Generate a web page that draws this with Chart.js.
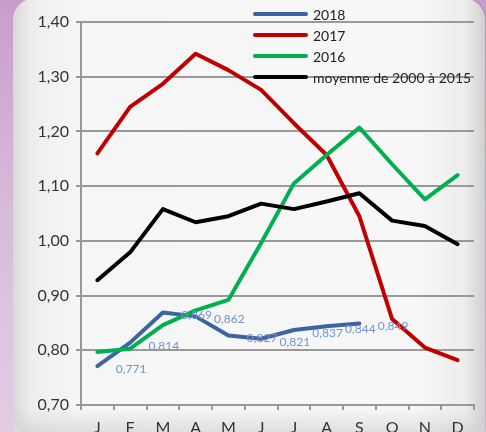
<!DOCTYPE html>
<html>
<head>
<meta charset="utf-8">
<script src="https://cdn.jsdelivr.net/npm/chart.js@4"></script>
<style>
  html, body { margin: 0; padding: 0; }
  body {
    width: 486px; height: 432px; overflow: hidden; position: relative;
    background: linear-gradient(to bottom, #c99dca 0%, #d8bcdb 50%, #e2cde4 100%);
  }
  #panel {
    position: absolute; left: 13px; top: -2px; width: 472px; height: 450px;
    border-radius: 22px;
    background: linear-gradient(to right, #d9d9d9 0%, #eeeeee 4%, #f6f6f6 14%, #f7f7f7 86%, #ececec 96%, #cfcfcf 100%);
    box-shadow: 1px 0 2px rgba(0,0,0,0.15);
  }
  #bottom {
    position: absolute; left: 13px; top: 408px; width: 472px; height: 30px;
    background: linear-gradient(to bottom, rgba(210,210,210,0) 0%, rgba(205,205,205,0.7) 100%);
    border-radius: 0 0 22px 22px;
  }
  #wrap { position: absolute; left: 0; top: 0; width: 486px; height: 432px; }
</style>
</head>
<body>
<div id="panel"></div>
<div id="bottom"></div>
<div id="wrap"><canvas id="grafico" width="486" height="432"></canvas></div>
<script>
const mois = ['J', 'F', 'M', 'A', 'M', 'J', 'J', 'A', 'S', 'O', 'N', 'D'];
const serie2018 = [0.771, 0.814, 0.869, 0.862, 0.827, 0.821, 0.837, 0.844, 0.849, null, null, null];
const serie2017 = [1.160, 1.245, 1.287, 1.342, 1.312, 1.276, 1.215, 1.157, 1.045, 0.857, 0.805, 0.782];
const serie2016 = [0.797, 0.803, 0.846, 0.873, 0.892, 0.996, 1.105, 1.157, 1.207, 1.140, 1.076, 1.120];
const moyenne = [0.928, 0.979, 1.058, 1.034, 1.045, 1.068, 1.058, 1.072, 1.087, 1.037, 1.027, 0.994];
const nomsSeries = ['2018', '2017', '2016', 'moyenne de 2000 à 2015'];
const couleurs = ['#3c64a0', '#c00000', '#00b050', '#000000'];

const police = 'Lato, "DejaVu Sans", sans-serif';

function virgule(v, dec) {
  return v.toFixed(dec).replace('.', ',');
}

// legend drawn inside the plot, top right
const legendePlugin = {
  id: 'legende',
  beforeDatasetsDraw(chart) {
    const ctx = chart.ctx;
    const ys = [14, 35, 56, 77];
    ctx.save();
    ctx.font = '14px ' + police;
    ctx.textBaseline = 'middle';
    ctx.fillStyle = '#222';
    chart.data.datasets.forEach((ds, i) => {
      ctx.strokeStyle = ds.borderColor;
      ctx.lineWidth = 4;
      ctx.lineCap = 'round';
      ctx.beginPath();
      ctx.moveTo(255, ys[i]);
      ctx.lineTo(306, ys[i]);
      ctx.stroke();
      ctx.fillText(ds.label, 313, ys[i] + 1);
    });
    ctx.restore();
  }
};

// value labels of 2018, shifted one month right as in the original
const etiquettesPlugin = {
  id: 'etiquettes',
  afterDatasetsDraw(chart) {
    const ctx = chart.ctx;
    const meta = chart.getDatasetMeta(0);
    const pas = chart.scales.x.getPixelForValue(1) - chart.scales.x.getPixelForValue(0);
    ctx.save();
    ctx.font = '12px ' + police;
    ctx.fillStyle = '#7292d0';
    ctx.textAlign = 'center';
    ctx.textBaseline = 'middle';
    meta.data.forEach((pt, i) => {
      const v = serie2018[i];
      if (v == null) return;
      ctx.fillText(virgule(v, 3), pt.x + pas + 1, pt.y + 3);
    });
    ctx.restore();
  }
};

const ctx = document.getElementById('grafico').getContext('2d');
new Chart(ctx, {
  type: 'line',
  data: {
    labels: mois,
    datasets: [
      { label: nomsSeries[0], data: serie2018, borderColor: couleurs[0], order: 4 },
      { label: nomsSeries[1], data: serie2017, borderColor: couleurs[1], order: 3 },
      { label: nomsSeries[2], data: serie2016, borderColor: couleurs[2], order: 2 },
      { label: nomsSeries[3], data: moyenne, borderColor: couleurs[3], order: 1 }
    ]
  },
  options: {
    responsive: false,
    animation: false,
    layout: { padding: { top: 22, right: 12, left: 0, bottom: 0 } },
    elements: {
      line: { borderWidth: 4, tension: 0, fill: false, borderJoinStyle: 'round', borderCapStyle: 'round' },
      point: { radius: 0, hoverRadius: 0 }
    },
    plugins: {
      legend: { display: false },
      tooltip: { enabled: false }
    },
    scales: {
      x: {
        offset: true,
        grid: { offset: true, drawOnChartArea: false, drawTicks: true, tickLength: 5, color: '#999', lineWidth: 2 },
        border: { color: '#999', width: 2 },
        ticks: { padding: 8, color: '#333', font: { family: police, size: 16 } },
        afterFit(scale) { scale.height = 27; }
      },
      y: {
        min: 0.7,
        max: 1.4,
        grid: { color: '#999', lineWidth: 2, tickLength: 5 },
        border: { color: '#999', width: 2 },
        ticks: {
          stepSize: 0.1,
          padding: 7,
          color: '#333',
          font: { family: police, size: 16 },
          callback: v => virgule(v, 2)
        },
        afterFit(scale) { scale.width = 81; }
      }
    }
  },
  plugins: [legendePlugin, etiquettesPlugin]
});
</script>
</body>
</html>
